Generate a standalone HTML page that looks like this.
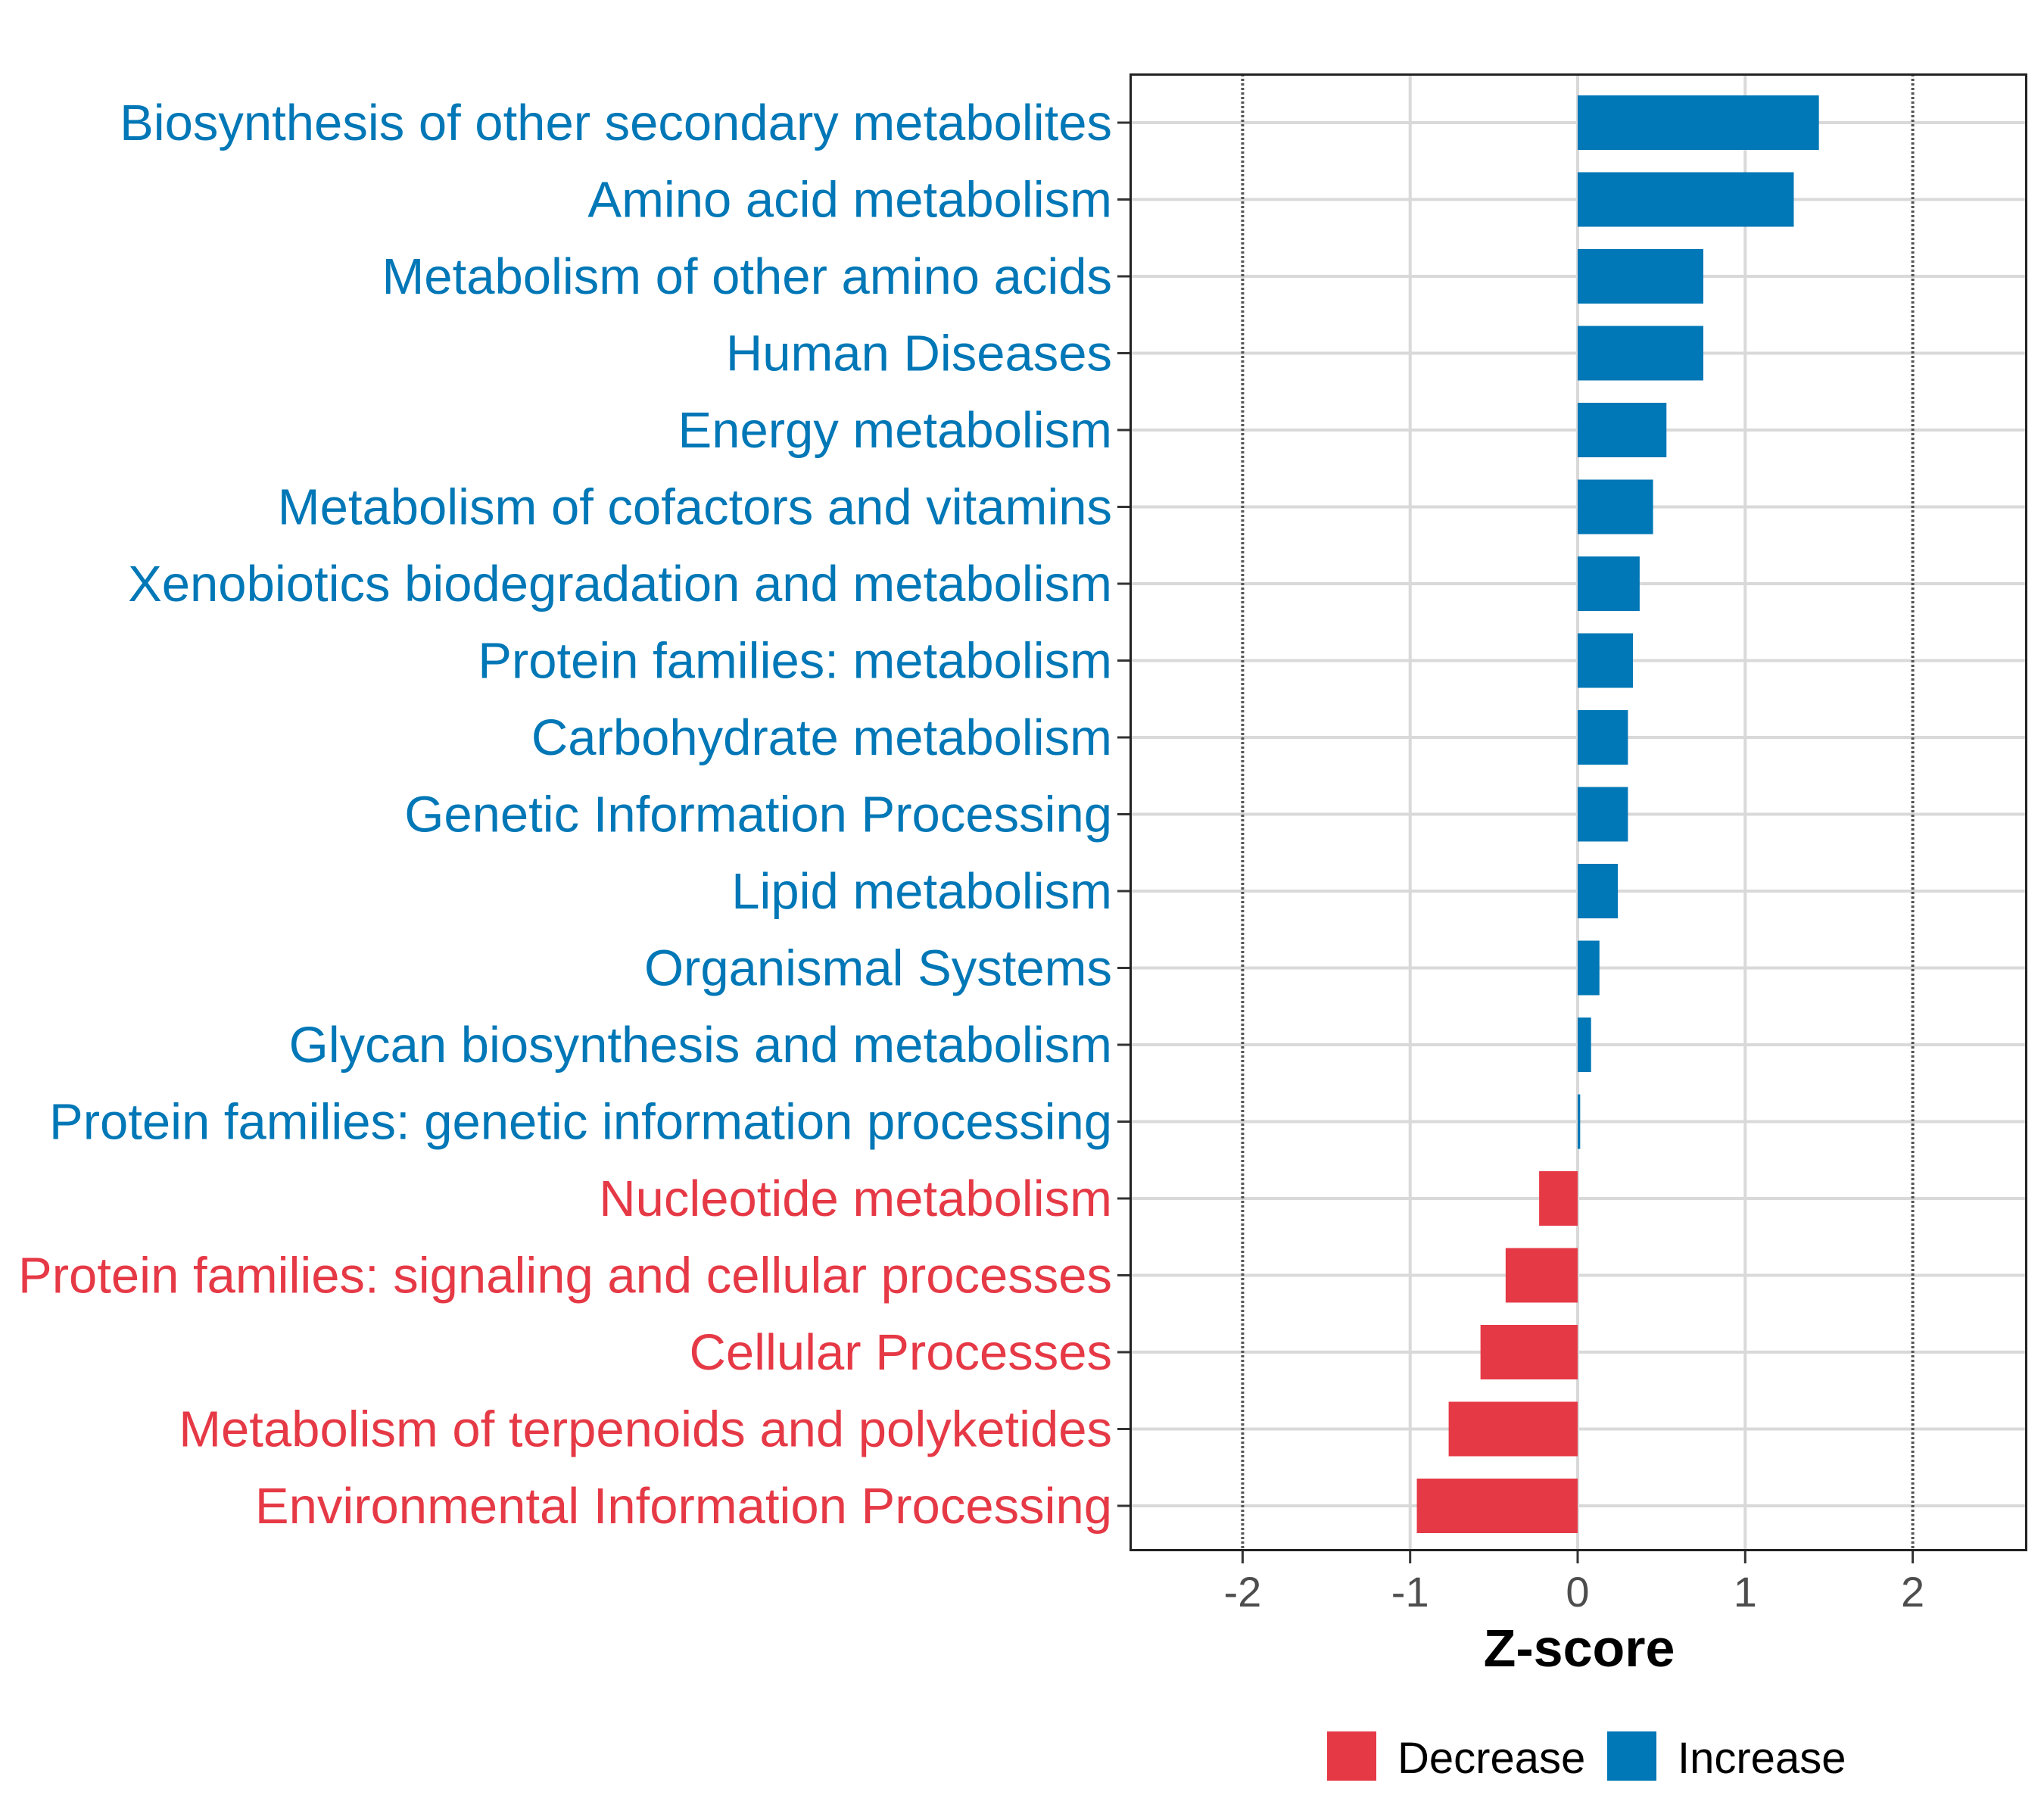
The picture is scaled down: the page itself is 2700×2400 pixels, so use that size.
<!DOCTYPE html>
<html><head><meta charset="utf-8"><style>
html,body{margin:0;padding:0;background:#fff;}
svg{display:block;font-family:"Liberation Sans",sans-serif;}
</style></head><body>
<svg id="chart" width="2700" height="2400" viewBox="0 0 2700 2400">
<g id="grid"></g>
<g id="bars"></g>
<g id="ylabels"></g>
<g id="xaxis"></g>
<rect x="1493.5" y="98.5" width="1183" height="1949" fill="none" stroke="#222" stroke-width="3"/>
<text x="2086" y="2201" font-size="70" font-weight="bold" text-anchor="middle" fill="#000">Z-score</text>
<g>
<g>
<rect x="1753" y="2287" width="65" height="65" fill="#e63946"/>
<text x="1846" y="2342" font-size="58" fill="#000">Decrease</text></g>
<g>
<rect x="2123" y="2287" width="65" height="65" fill="#0077b6"/>
<text x="2216" y="2342" font-size="58" fill="#000">Increase</text></g>
</g>
</svg>
<script>
const categories=["Biosynthesis of other secondary metabolites","Amino acid metabolism","Metabolism of other amino acids","Human Diseases","Energy metabolism","Metabolism of cofactors and vitamins","Xenobiotics biodegradation and metabolism","Protein families: metabolism","Carbohydrate metabolism","Genetic Information Processing","Lipid metabolism","Organismal Systems","Glycan biosynthesis and metabolism","Protein families: genetic information processing","Nucleotide metabolism","Protein families: signaling and cellular processes","Cellular Processes","Metabolism of terpenoids and polyketides","Environmental Information Processing"];
const zscores=[1.44,1.29,0.75,0.75,0.53,0.45,0.37,0.33,0.30,0.30,0.24,0.13,0.08,0.015,-0.23,-0.43,-0.58,-0.77,-0.96];
const xTicks=[-2,-1,0,1,2];
const xTickLabels=["-2","-1","0","1","2"];
const BLUE="#0077b6",RED="#e63946",NS="http://www.w3.org/2000/svg";
const x=v=>2084+v*221.3;
const y=i=>162+i*101.5;
function mk(t,a,p){const e=document.createElementNS(NS,t);for(const k in a)e.setAttribute(k,a[k]);p.appendChild(e);return e;}
const grid=document.getElementById('grid'),bars=document.getElementById('bars'),yl=document.getElementById('ylabels'),xa=document.getElementById('xaxis');
categories.forEach((c,i)=>{
 const g=mk('line',{x1:1493,x2:2677,y1:y(i),y2:y(i),stroke:'#d9d9d9','stroke-width':4},grid);
 
 
});
xTicks.forEach((t,i)=>{
 const dotted=Math.abs(t)===2;
 const l=mk('line',{x1:x(t),x2:x(t),y1:98,y2:2047,stroke:dotted?'#555':'#d9d9d9','stroke-width':4,'stroke-dasharray':dotted?'3,3':'none'},grid);
 
 
 const tk=mk('line',{x1:x(t),x2:x(t),y1:2047,y2:2065,stroke:'#333','stroke-width':3},xa);
 
 
 const tl=mk('text',{x:x(t),y:2122,'font-size':56,'text-anchor':'middle',fill:'#4d4d4d'},xa);
 tl.textContent=xTickLabels[i];
 
 
});
categories.forEach((c,i)=>{
 const v=zscores[i],col=v>=0?BLUE:RED;
 const r=mk('rect',{x:Math.min(x(0),x(v)),y:y(i)-36,width:Math.max(2,Math.abs(x(v)-x(0))),height:72,fill:col},bars);
 
 
 const tk=mk('line',{x1:1476,x2:1493,y1:y(i),y2:y(i),stroke:'#333','stroke-width':3},yl);
 
 
 const t=mk('text',{x:1469,y:y(i)+23,'font-size':67,'text-anchor':'end',fill:col},yl);
 t.textContent=c;
 
 
});
</script>
</body></html>
